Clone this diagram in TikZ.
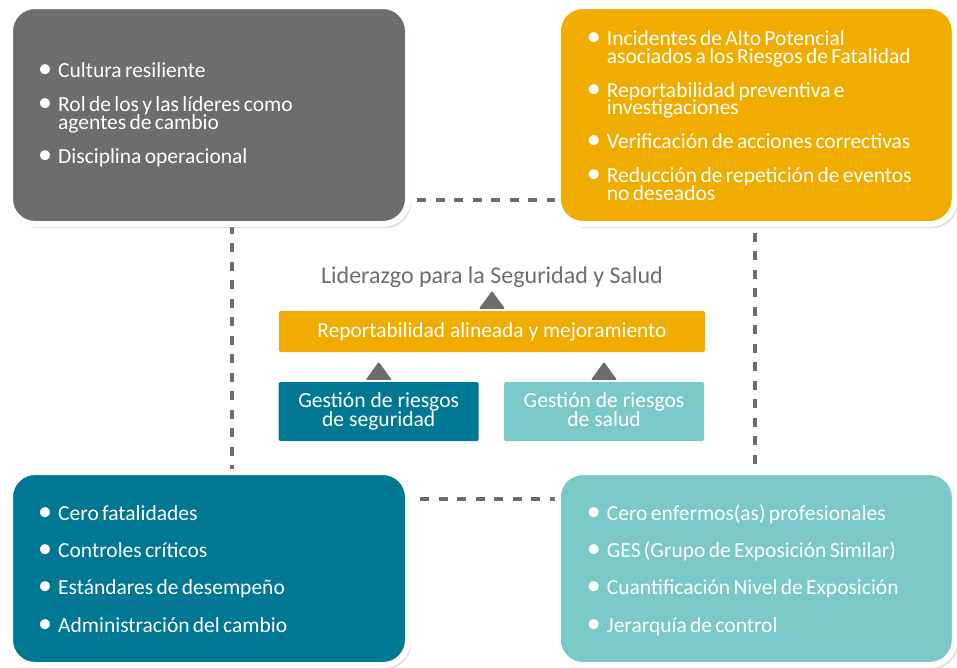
\documentclass[tikz,border=0pt]{standalone}
\usepackage{fontspec}
\setmainfont{Carlito}
\usetikzlibrary{positioning,shadows}

\definecolor{hsgrey}{HTML}{6D6D6D}
\definecolor{hsgold}{HTML}{F0AD00}
\definecolor{hsteal}{HTML}{007893}
\definecolor{hsaqua}{HTML}{7AC8C8}

\newcommand{\lstsetup}[1]{\fontsize{21.5}{17.5}\selectfont\lineskiplimit=-\maxdimen\parskip=#1\relax}
\newcommand{\itm}[1]{\noindent\hangindent=20pt\hangafter=1\makebox[20pt][l]{\scalebox{1.3}{\textbullet}}#1\par}

\tikzset{
  bigbox/.style={draw=white, line width=6pt, rounded corners=25pt, minimum height=#1, minimum width=398pt,
    drop shadow={opacity=0.25, shadow xshift=3pt, shadow yshift=-4pt}},
  bullets/.style={text=white, text width=#1, align=left, inner sep=0pt, anchor=base west},
  flatbox/.style={text=white, inner sep=0pt, rounded corners=1.5pt, align=center,
    font=\fontsize{21.6}{19.5}\selectfont},
  frameline/.style={draw=hsgrey, line width=4pt, dash pattern=on 9pt off 9.5pt},
  arrowtri/.style={fill=hsgrey, rounded corners=1pt},
}

\begin{document}
\begin{tikzpicture}[x=1pt,y=-1pt]
\useasboundingbox (0,0) rectangle (957,667);

% dashed frame behind the boxes
\coordinate (ftl) at (232,200);
\coordinate (ftr) at (754.5,200);
\coordinate (fbr) at (754.5,499);
\coordinate (fbl) at (232,499);
\draw[frameline] (ftl) -- (ftr) -- (fbr) -- (fbl) -- cycle;

% corner boxes
\node[bigbox=218pt, fill=hsgrey] (culture) at (209,115) {};
\node[bigbox=218pt, fill=hsgold, minimum width=397pt] (incidents) at (756.3,115) {};
\node[bigbox=193pt, fill=hsteal] (safetygoals) at (209,568.5) {};
\node[bigbox=193pt, fill=hsaqua, minimum width=397pt] (healthgoals) at (756.3,568.5) {};

% bullet lists
\node[bullets=360pt] (culturetxt) at (38,77.7) {\lstsetup{16.5pt}%
  \itm{Cultura resiliente}
  \itm{Rol de los y las líderes como\newline agentes de cambio}
  \itm{Disciplina operacional}};
\node[bullets=360pt] (incidentstxt) at (586.7,45.7) {\lstsetup{16.5pt}%
  \itm{Incidentes de Alto Potencial\newline asociados a los Riesgos de Fatalidad}
  \itm{Reportabilidad preventiva e\newline investigaciones}
  \itm{Verificación de acciones correctivas}
  \itm{Reducción de repetición de eventos\newline no deseados}};
\node[bullets=360pt] (safetytxt) at (38,520.7) {\lstsetup{19.6pt}%
  \itm{Cero fatalidades}
  \itm{Controles críticos}
  \itm{Estándares de desempeño}
  \itm{Administración del cambio}};
\node[bullets=360pt] (healthtxt) at (586.7,520.7) {\lstsetup{19.6pt}%
  \itm{Cero enfermos(as) profesionales}
  \itm{GES (Grupo de Exposición Similar)}
  \itm{Cuantificación Nivel de Exposición}
  \itm{Jerarquía de control}};

% centre
\node[text=hsgrey, anchor=base, inner sep=0pt, font=\fontsize{24}{26}\selectfont]
  (leadership) at (492,283.4) {Liderazgo para la Seguridad y Salud};
\node[flatbox, fill=hsgold, minimum width=426pt, minimum height=41pt, font=\fontsize{21.4}{24}\selectfont]
  (reporting) at (492,331.5) {Reportabilidad alineada y mejoramiento};
\node[flatbox, fill=hsteal, minimum width=200pt, minimum height=59pt]
  (safetymgmt) at (378.7,411.5) {Gestión de riesgos\\de seguridad};
\node[flatbox, fill=hsaqua, minimum width=200pt, minimum height=59pt]
  (healthmgmt) at (604,411.5) {Gestión de riesgos\\de salud\vphantom{g}};

\coordinate[above=2pt of reporting] (tritop);
\coordinate[above=2pt of safetymgmt] (trileft);
\coordinate[above=2pt of healthmgmt] (triright);
\foreach \t in {tritop,trileft,triright}
  \fill[arrowtri] (\t) +(-13,0) -- +(13,0) -- +(0,-18) -- cycle;
\end{tikzpicture}
\end{document}
